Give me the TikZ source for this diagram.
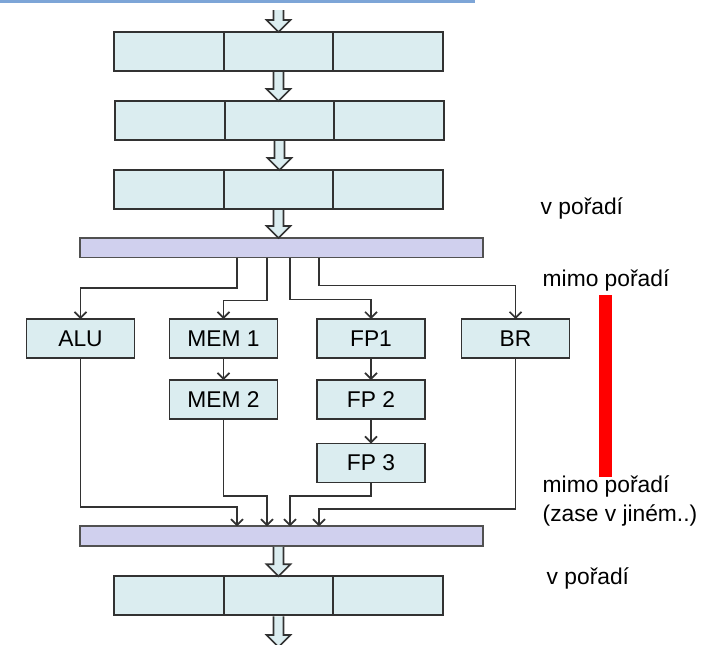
\documentclass[tikz,border=0pt]{standalone}
\usepackage{fontspec}
\setmainfont{Liberation Sans}
\usetikzlibrary{arrows.meta,positioning,calc}
\definecolor{cellfill}{RGB}{219,237,240}
\definecolor{barfill}{RGB}{208,208,238}
\definecolor{edge}{RGB}{50,50,50}
\definecolor{topblue}{RGB}{125,165,215}

\begin{document}
\begin{tikzpicture}[
  x=1pt, y=-1pt,
  font=\fontsize{22.8}{29}\selectfont,
  cell/.style={draw=edge, fill=cellfill, line width=1.8pt, minimum width=109.5pt, minimum height=39pt, inner sep=0pt, outer sep=0pt},
  unit/.style={cell, minimum width=108pt},
  bar/.style={draw=edge!85, fill=barfill, line width=1.8pt, minimum width=403pt, minimum height=19.5pt, inner sep=0pt, outer sep=0pt},
  arr/.style={draw=edge, line width=1.6pt, -{Straight Barb[length=6pt,width=12pt]}},
  fat/.style={draw=edge, fill=cellfill, line width=1.6pt, to path={
    let \p1=(\tikztostart), \p2=(\tikztotarget) in
    (\x1-5pt,\y1-1pt) -- (\x1-5pt,\y2+12pt) -- (\x1-12pt,\y2+12pt) -- (\x1,\y2)
    -- (\x1+12pt,\y2+12pt) -- (\x1+5pt,\y2+12pt) -- (\x1+5pt,\y1-1pt)}},
  note/.style={anchor=base west, inner sep=0pt, align=left},
  redbar/.style={fill=red, minimum width=12.7pt, minimum height=181.7pt, inner sep=0pt}
]
  \useasboundingbox (0,0) rectangle (715,645);
  \clip (0,0) rectangle (715,645);

  \draw[topblue, line width=3pt] (0,1.5) -- (475,1.5);

  % in-order stages
  \node[cell] (r1b) at (278.5,51.5) {};
  \node[cell, left=0pt of r1b] (r1a) {};
  \node[cell, right=0pt of r1b] (r1c) {};

  \node[cell, below=30pt of r1b, xshift=1pt] (r2b) {};
  \node[cell, left=0pt of r2b] (r2a) {};
  \node[cell, right=0pt of r2b] (r2c) {};

  \node[cell, below=30pt of r2b, xshift=-1pt] (r3b) {};
  \node[cell, left=0pt of r3b] (r3a) {};
  \node[cell, right=0pt of r3b] (r3c) {};

  \node[bar, below=29pt of r3b, xshift=3pt] (issue) {};

  % execution units
  \node[unit] (alu) at (80.5,338.5) {ALU};
  \node[unit, right=35pt of alu] (mem1) {MEM 1};
  \node[unit, right=39.5pt of mem1] (fp1) {FP1};
  \node[unit, right=36.5pt of fp1] (br) {BR};
  \node[unit, below=22pt of mem1] (mem2) {MEM 2};
  \node[unit, below=22pt of fp1] (fp2) {FP 2};
  \node[unit, below=24.5pt of fp2] (fp3) {FP 3};

  \node[bar] (commit) at (281.5,536) {};

  \node[cell, below=30.5pt of commit, xshift=-3pt] (r4b) {};
  \node[cell, left=0pt of r4b] (r4a) {};
  \node[cell, right=0pt of r4b] (r4c) {};

  \coordinate (top) at (278.5,9);
  \coordinate (bottom) at (278.5,647);

  % fat arrows
  \draw[fat] (top) to (r1b.north);
  \draw[fat] (r1b.south) to (r2b.north);
  \draw[fat] (r2b.south) to (r3b.north);
  \draw[fat] (r3b.south) to (issue.north -| r3b.south);
  \draw[fat] (commit.south -| r4b.north) to (r4b.north);
  \draw[fat] (r4b.south) to (bottom);

  % dispatch
  \draw[arr] ([xshift=-44.5pt]issue.south) -- ++(0,30.5) -| (alu);
  \draw[arr] ([xshift=-14.5pt]issue.south) -- ++(0,43) -| (mem1);
  \draw[arr] ([xshift=8.5pt]issue.south) -- ++(0,42) -| (fp1);
  \draw[arr] ([xshift=37.5pt]issue.south) -- ++(0,28) -| (br);
  \draw[arr] (mem1) -- (mem2);
  \draw[arr] (fp1) -- (fp2);
  \draw[arr] (fp2) -- (fp3);

  % completion
  \coordinate (in1) at ([xshift=-44.5pt]commit.north);
  \coordinate (in2) at ([xshift=-14.5pt]commit.north);
  \coordinate (in3) at ([xshift=8.5pt]commit.north);
  \coordinate (in4) at ([xshift=37.5pt]commit.north);
  \draw[arr] (alu) |- ([yshift=19pt]in1) -- (in1);
  \draw[arr] (mem2) |- ([yshift=30pt]in2) -- (in2);
  \draw[arr] (fp3) |- ([yshift=30pt]in3) -- (in3);
  \draw[arr] (br) |- ([yshift=17pt]in4) -- (in4);

  % labels
  \node[note] (ord1) at (540.5,214) {v pořadí};
  \node[note] (ooo1) at (542.5,286) {mimo pořadí};
  \node[redbar] (mark) at (605.3,385.8) {};
  \node[note] (ooo2) at (542.5,521.7) {mimo pořadí\\(zase v jiném..)};
  \node[note] (ord2) at (546.5,584) {v pořadí};
\end{tikzpicture}
\end{document}
